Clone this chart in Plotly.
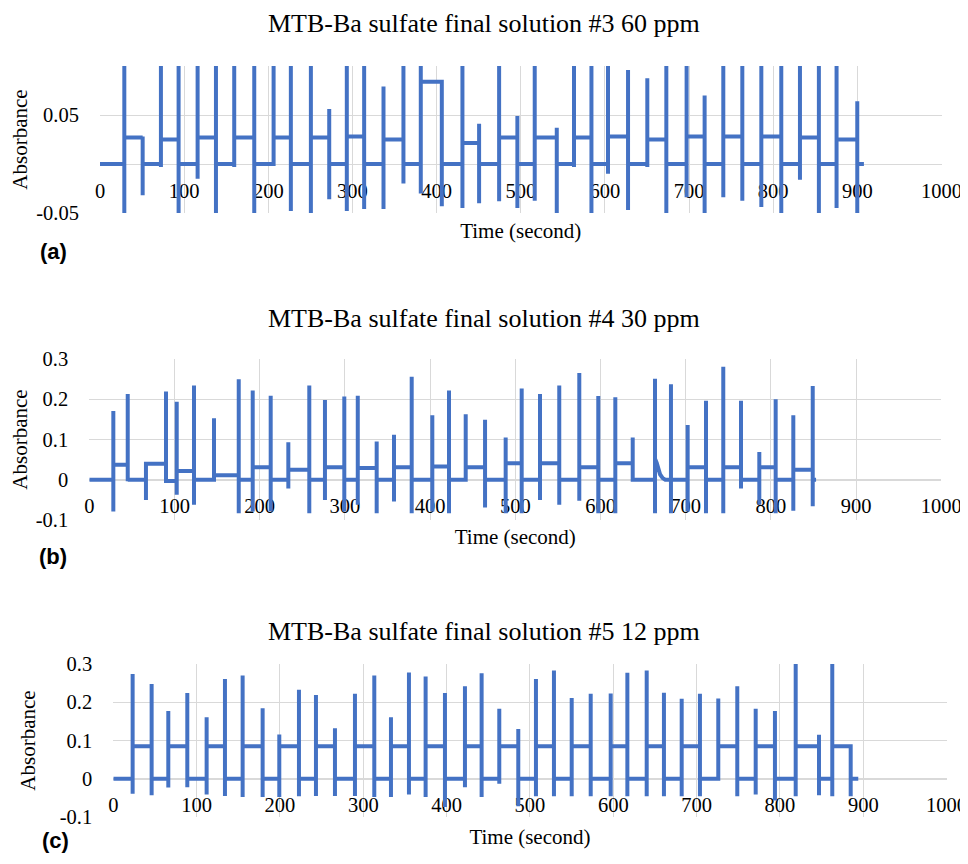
import plotly.graph_objects as go

BLUE = "#4472C4"
GRID = "#d9d9d9"
SERIF = "Liberation Serif"
SANS = "Liberation Sans"

X_TICKS = [0, 100, 200, 300, 400, 500, 600, 700, 800, 900, 1000]

# ---------------- Panel (a): #3 60 ppm ----------------
A_TITLE = "MTB-Ba sulfate final solution #3 60 ppm"
A_T = [28.9, 50.7, 72.4, 93.4, 116, 137.8, 159.5, 183.3, 206.3, 226.8,
       250.6, 272.4, 293.3, 313.9, 336.9, 360.6, 381.2, 406.2, 430.7, 450.5,
       474.3, 496, 516.6, 542.8, 563.3, 584, 603.7, 627.5, 650.4, 673,
       697.1, 718.5, 740.7, 763.3, 785.9, 809.6, 831.8, 854.3, 875.3, 899.9]
A_HI = [0.15, 0.028, 0.15, 0.15, 0.15, 0.15, 0.15, 0.15, 0.15, 0.15,
        0.15, 0.056, 0.15, 0.15, 0.079, 0.15, 0.15, 0.084, 0.15, 0.041,
        0.15, 0.049, 0.15, 0.037, 0.15, 0.15, 0.15, 0.096, 0.0875, 0.15,
        0.15, 0.070, 0.15, 0.15, 0.15, 0.15, 0.15, 0.15, 0.15, 0.064]
A_LO = [-0.06, -0.032, -0.003, -0.050, -0.015, -0.06, -0.003, -0.06, 0.0, -0.048,
        -0.06, -0.036, -0.048, -0.046, -0.046, -0.020, -0.030, -0.043, -0.045, -0.040,
        -0.038, -0.045, -0.0375, -0.06, -0.003, -0.06, -0.010, -0.047, -0.003, -0.06,
        -0.034, -0.06, -0.034, -0.0375, -0.044, -0.06, -0.016, -0.06, -0.045, -0.06]
A_LEVEL = [0.027, 0.0, 0.025, 0.0, 0.027, 0.0, 0.027, 0.0, 0.027, 0.0,
           0.027, 0.0, 0.028, 0.0, 0.025, 0.0, 0.084, 0.0, 0.0215, 0.0,
           0.027, 0.0, 0.027, 0.0, 0.027, 0.0, 0.028, 0.0, 0.025, 0.0,
           0.028, 0.0, 0.028, 0.0, 0.028, 0.0, 0.027, 0.0, 0.025, 0.0]
A_END = 907.8
A_YTICKS = [-0.05, 0.05]
A_YTEXT = ["-0.05", "0.05"]

# ---------------- Panel (b): #4 30 ppm ----------------
B_TITLE = "MTB-Ba sulfate final solution #4 30 ppm"
B_T = [28.2, 45.1, 66.5, 90.0, 102.6, 122.9, 146.4, 175.4, 191.8, 212.9,
       233.6, 258.2, 276.6, 299.3, 315.1, 337.3, 357.6, 378.4, 402.6, 422.2,
       441.8, 464.5, 488.7, 507.5, 529.0, 551.6, 575.1, 597.4, 617.4, 637.8,
       664.0, 682.7, 702.3, 723.8, 744.1, 764.9, 786.4, 805.6, 826.3, 849.1]
B_HI = [0.171, 0.213, 0.044, 0.219, 0.194, 0.234, 0.153, 0.250, 0.222, 0.209,
        0.093, 0.234, 0.198, 0.207, 0.209, 0.095, 0.112, 0.256, 0.160, 0.222,
        0.163, 0.149, 0.105, 0.227, 0.213, 0.234, 0.265, 0.208, 0.205, 0.105,
        0.251, 0.237, 0.136, 0.196, 0.281, 0.196, 0.069, 0.200, 0.160, 0.233]
B_LO = [-0.079, -0.004, -0.050, -0.008, -0.037, -0.062, 0.0, -0.083, -0.079, -0.079,
        -0.022, -0.083, -0.050, -0.079, -0.062, -0.083, -0.054, -0.083, -0.079, -0.083,
        -0.004, -0.069, -0.083, -0.083, -0.050, -0.062, -0.052, -0.083, -0.083, 0.0,
        -0.083, -0.083, -0.079, -0.083, -0.083, -0.022, -0.062, -0.083, -0.077, -0.066]
B_LEVEL = [0.037, 0.0, 0.040, -0.003, 0.022, 0.0, 0.011, 0.0, 0.031, 0.0,
           0.025, 0.0, 0.031, 0.0, 0.029, 0.0, 0.031, 0.0, 0.033, 0.0,
           0.031, 0.0, 0.041, 0.0, 0.041, 0.0, 0.031, 0.0, 0.041, 0.0,
           0.052, 0.0, 0.031, 0.0, 0.031, 0.0, 0.031, 0.0, 0.025, 0.0]
B_TAIL_T = [666.0, 668.0, 670.0, 673.0, 676.0]
B_TAIL_Y = [0.042, 0.025, 0.013, 0.004, 0.0]
B_END = 853.0
B_YTICKS = [-0.1, 0, 0.1, 0.2, 0.3]
B_YTEXT = ["-0.1", "0", "0.1", "0.2", "0.3"]

# ---------------- Panel (c): #5 12 ppm ----------------
C_TITLE = "MTB-Ba sulfate final solution #5 12 ppm"
C_T = [23.2, 46, 66, 88.8, 112, 134, 155.2, 179.2, 199.2, 222.8,
       243.2, 266, 290, 313.2, 333.2, 354.8, 374.8, 398, 422, 442,
       463.2, 486, 507.2, 528.8, 550.1, 572.9, 596.9, 616.9, 640.1, 660.8,
       682.1, 704.0, 726.0, 748.8, 770.9, 794.0, 818.9, 846.9, 862.8, 884.9]
C_HI = [0.274, 0.248, 0.177, 0.224, 0.161, 0.261, 0.270, 0.184, 0.116, 0.233,
        0.219, 0.132, 0.222, 0.270, 0.161, 0.278, 0.267, 0.224, 0.242, 0.276,
        0.183, 0.130, 0.261, 0.283, 0.211, 0.222, 0.223, 0.277, 0.283, 0.225,
        0.209, 0.222, 0.210, 0.242, 0.183, 0.177, 0.35, 0.115, 0.35, 0.085]
C_LO = [-0.039, -0.043, -0.023, -0.022, -0.041, -0.045, -0.048, -0.048, -0.048, -0.046,
        -0.045, -0.045, -0.045, -0.048, -0.048, -0.041, -0.048, -0.074, -0.022, -0.048,
        -0.013, -0.072, -0.046, -0.046, -0.046, -0.046, -0.046, -0.046, -0.046, -0.046,
        -0.046, -0.046, -0.004, -0.046, -0.041, -0.057, -0.046, -0.043, -0.046, -0.046]
C_LEVEL = [0.085, 0.0] * 20
C_END = 894.0
C_YTICKS = [-0.1, 0, 0.1, 0.2, 0.3]
C_YTEXT = ["-0.1", "0", "0.1", "0.2", "0.3"]


def build(t, hi, lo, level, t_end, tail_t=(), tail_y=()):
    xs, ys = [0.0], [0.0]
    prev = 0.0
    for i in range(len(t)):
        xs += [t[i]] * 4
        ys += [prev, hi[i], lo[i], level[i]]
        prev = level[i]
        nxt = t[i + 1] if i + 1 < len(t) else t_end
        for tt, yy in zip(tail_t, tail_y):
            if t[i] < tt < nxt:
                xs.append(tt)
                ys.append(yy)
                prev = yy
    xs.append(t_end)
    ys.append(prev)
    return xs, ys


# page body has an 8px margin; figure sized to fit inside the 968x864 window
OFF = 8
W, H = 960, 848


def px_x(v):
    return (v - OFF) / W


def px_y(v):
    return (H - (v - OFF)) / H


panels = [
    dict(name="(a)", title=A_TITLE, data=build(A_T, A_HI, A_LO, A_LEVEL, A_END),
         xdom=(100, 941.5), ydom=(66, 213), yrange=[-0.05, 0.1],
         ytv=A_YTICKS, ytt=A_YTEXT, title_y=23, lab_xy=(53, 251),
         xstand=22, ystand=6),
    dict(name="(b)", title=B_TITLE,
         data=build(B_T, B_HI, B_LO, B_LEVEL, B_END, B_TAIL_T, B_TAIL_Y),
         xdom=(89.3, 941.3), ydom=(359, 520), yrange=[-0.1, 0.3],
         ytv=B_YTICKS, ytt=B_YTEXT, title_y=318, lab_xy=(53, 556),
         xstand=12, ystand=17),
    dict(name="(c)", title=C_TITLE, data=build(C_T, C_HI, C_LO, C_LEVEL, C_END),
         xdom=(113.3, 946.6), ydom=(664, 817), yrange=[-0.1, 0.3],
         ytv=C_YTICKS, ytt=C_YTEXT, title_y=631, lab_xy=(55, 840),
         xstand=13, ystand=18),
]

fig = go.Figure()
annotations = []
tickfont = dict(family=SERIF, size=20.5, color="black")
titlefont = dict(family=SERIF, size=21, color="black")

for i, p in enumerate(panels):
    k = "" if i == 0 else str(i + 1)
    xs, ys = p["data"]
    fig.add_trace(go.Scatter(x=xs, y=ys, mode="lines",
                             line=dict(color=BLUE, width=4),
                             xaxis="x" + k, yaxis="y" + k, showlegend=False,
                             hoverinfo="skip"))
    ydom = [px_y(p["ydom"][1]), px_y(p["ydom"][0])]
    y0, y1 = p["yrange"]
    zero_pos = ydom[0] + (0 - y0) / (y1 - y0) * (ydom[1] - ydom[0])
    fig.layout["xaxis" + k] = dict(
        domain=[px_x(p["xdom"][0]), px_x(p["xdom"][1])],
        range=[0, 1000], tickvals=X_TICKS, ticktext=[str(v) for v in X_TICKS],
        anchor="free", position=zero_pos,
        showgrid=True, gridcolor=GRID, gridwidth=1, zeroline=False,
        showline=True, linecolor=GRID, linewidth=1, layer="below traces",
        ticks="outside", ticklen=8, tickcolor="rgba(0,0,0,0)",
        tickfont=tickfont, ticklabeloverflow="allow",
        title=dict(text="Time (second)", font=titlefont, standoff=p["xstand"]),
        automargin=False, fixedrange=True,
    )
    fig.layout["yaxis" + k] = dict(
        domain=ydom, range=p["yrange"], anchor="x" + k,
        tickvals=p["ytv"], ticktext=p["ytt"],
        showgrid=True, gridcolor=GRID, gridwidth=1,
        zeroline=True, zerolinecolor=GRID, zerolinewidth=1,
        showline=False, layer="below traces",
        ticks="outside", ticklen=16, tickcolor="rgba(0,0,0,0)",
        tickfont=tickfont, ticklabeloverflow="allow",
        title=dict(text="Absorbance", font=titlefont, standoff=p["ystand"]),
        automargin=False, fixedrange=True,
    )
    annotations.append(dict(text=p["title"], x=px_x(484), y=px_y(p["title_y"]),
                            xref="paper", yref="paper", xanchor="center",
                            yanchor="middle", showarrow=False,
                            font=dict(family=SERIF, size=26, color="black")))
    annotations.append(dict(text="<b>" + p["name"] + "</b>",
                            x=px_x(p["lab_xy"][0]), y=px_y(p["lab_xy"][1]),
                            xref="paper", yref="paper", xanchor="center",
                            yanchor="middle", showarrow=False, borderpad=0,
                            font=dict(family=SANS, size=22, color="black")))

fig.update_layout(width=W, height=H, margin=dict(l=0, r=0, t=0, b=0),
                  plot_bgcolor="white", paper_bgcolor="white",
                  annotations=annotations, showlegend=False)

fig.write_html("out.html")
